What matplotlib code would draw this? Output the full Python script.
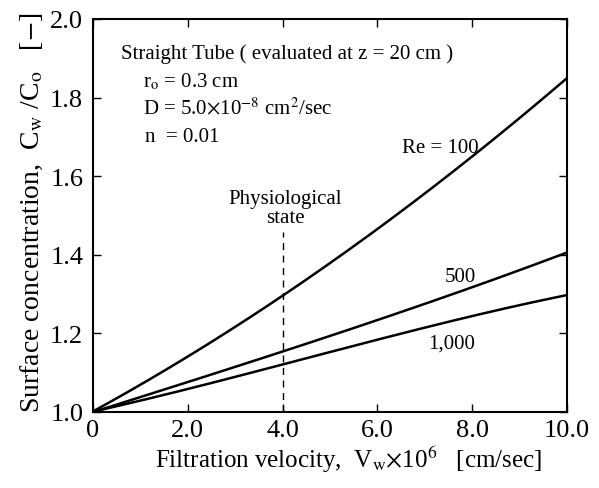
import numpy as np
import matplotlib
matplotlib.use("Agg")
import matplotlib.pyplot as plt

plt.rcParams['font.family'] = ['Liberation Serif', 'DejaVu Serif']
plt.rcParams['mathtext.fontset'] = 'stix'

# values
vw = [0, 2, 4, 6, 8, 9, 10]
re100 = [1.0, 1.145, 1.295, 1.46, 1.655, 1.75, 1.847]
re500 = [1.0, 1.076, 1.152, 1.238, 1.315, 1.36, 1.407]
re1000 = [1.0, 1.062, 1.117, 1.185, 1.245, 1.272, 1.297]

xticks = [0, 2, 4, 6, 8, 10]
xticklabels = ["0", "2.0", "4.0", "6.0", "8.0", "10.0"]
yticks = [1.0, 1.2, 1.4, 1.6, 1.8, 2.0]

fig = plt.figure(figsize=(5.99, 4.89), dpi=100)
ax = fig.add_axes([93 / 599, 1 - 413 / 489, 474 / 599, 393 / 489])

def smooth(x, y):
    xs = np.linspace(x[0], x[-1], 200)
    cs = np.polyfit(x, y, 3)
    return xs, np.polyval(cs, xs)

for ys in (re100, re500, re1000):
    xs, yy = smooth(vw, ys)
    ax.plot(xs, yy, color="black", lw=1.8)

ax.plot([4, 4], [1.0, 1.458], color="black", lw=1.0, ls=(0, (5, 4)))

ax.set_xlim(0, 10)
ax.set_ylim(1.0, 2.0)
ax.set_xticks(xticks)
ax.set_xticklabels(xticklabels)
ax.set_yticks(yticks)
ax.set_yticklabels([f"{v:.1f}" for v in yticks])
ax.tick_params(direction="in", top=True, right=True, length=6, width=1.0,
               labelsize=19)
ax.tick_params(axis="x", pad=5)
ax.tick_params(axis="y", pad=7)
for s in ax.spines.values():
    s.set_linewidth(1.5)

ax.set_xlabel(r"Filtration velocity,  V$_\mathrm{w}$$\times$10$^6$   [cm/sec]",
              fontsize=18, labelpad=2, x=0.54)
ax.set_ylabel(r"Surface concentration,  C$_\mathrm{w}$ /C$_\mathrm{o}$   [$-$]",
              fontsize=20, labelpad=4, y=0.51)

fs = 15
ax.text(0.59, 1.914, "Straight Tube ( evaluated at z = 20 cm )", fontsize=fs, va="center")
ax.text(1.05, 1.842, r"r$_\mathrm{o}$ = 0.3 cm", fontsize=fs, va="center")
ax.text(1.05, 1.776, r"D = 5.0$\times$10$^{-8}$ cm$^2$/sec", fontsize=fs, va="center")
ax.text(1.1, 1.702, "n  = 0.01", fontsize=fs, va="center")

ax.text(4.05, 1.519, "Physiological\nstate", fontsize=fs, ha="center", va="center",
        linespacing=1.05)
ax.text(7.32, 1.674, "Re = 100", fontsize=fs, ha="center", va="center")
ax.text(7.74, 1.346, "500", fontsize=fs, ha="center", va="center")
ax.text(7.57, 1.176, "1,000", fontsize=fs, ha="center", va="center")

fig.savefig("out.png", dpi=100)
